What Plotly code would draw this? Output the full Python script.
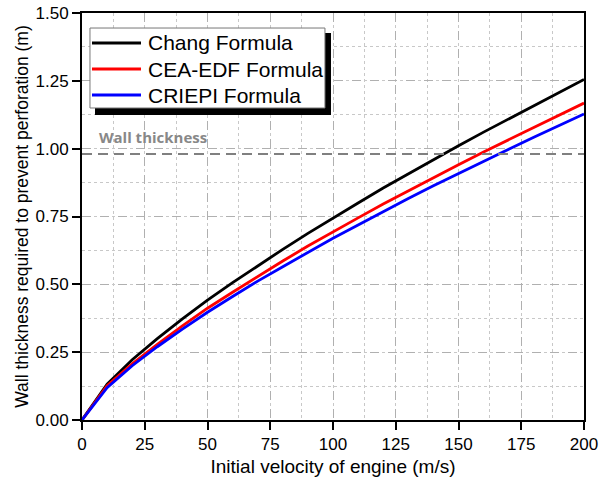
import plotly.graph_objects as go

velocity = [0, 10, 20, 30, 40, 50, 60, 70, 80, 90, 100, 110, 120, 130, 140, 150, 160, 170, 180, 190, 200]
chang = [0.0, 0.132, 0.222, 0.300, 0.373, 0.442, 0.506, 0.569, 0.629, 0.688, 0.745, 0.800, 0.855,
         0.908, 0.960, 1.011, 1.061, 1.110, 1.159, 1.207, 1.255]
cea_edf = [0.0, 0.126, 0.207, 0.279, 0.347, 0.412, 0.471, 0.530, 0.586, 0.641, 0.694, 0.745, 0.796,
           0.845, 0.894, 0.941, 0.988, 1.033, 1.079, 1.124, 1.168]
criepi = [0.0, 0.119, 0.200, 0.270, 0.335, 0.397, 0.455, 0.512, 0.565, 0.618, 0.670, 0.719, 0.769,
          0.816, 0.863, 0.909, 0.954, 0.998, 1.042, 1.085, 1.128]
series_names = ["Chang Formula", "CEA-EDF Formula", "CRIEPI Formula"]
series_colors = ["#000000", "#ff0000", "#0000ff"]
wall_thickness = 0.98
x_ticks = [0, 25, 50, 75, 100, 125, 150, 175, 200]
y_ticks = [0.0, 0.25, 0.5, 0.75, 1.0, 1.25, 1.5]

FONT = "Liberation Sans, Arial, sans-serif"

fig = go.Figure()
for name, color, values in zip(series_names, series_colors, [chang, cea_edf, criepi]):
    fig.add_trace(go.Scatter(x=velocity, y=values, mode="lines", name=name, showlegend=False,
                             line=dict(color=color, width=2.8)))

# wall thickness line
fig.add_trace(go.Scatter(x=[velocity[0], velocity[-1]], y=[wall_thickness, wall_thickness],
                         mode="lines", showlegend=False, name="Wall thickness",
                         line=dict(color="#808080", width=2, dash="10px,6px")))

fig.add_annotation(x=6, y=wall_thickness, xref="x", yref="y", text="<b>Wall thickness</b>",
                   showarrow=False, xanchor="left", yanchor="bottom", yshift=5,
                   font=dict(family="Open Sans, sans-serif", size=15, color="#888888"))

# legend box (with drop shadow), drawn in paper coordinates
fig.add_shape(type="rect", xref="paper", yref="paper",
              x0=0.0259, x1=0.496, y0=0.7494, y1=0.9509,
              fillcolor="black", line=dict(width=0), layer="above")
fig.add_shape(type="rect", xref="paper", yref="paper",
              x0=0.0159, x1=0.484, y0=0.7666, y1=0.9631,
              fillcolor="white", line=dict(color="#777777", width=1), layer="above")
legend_rows = [0.9263, 0.8624, 0.7985]
for name, color, yrow in zip(series_names, series_colors, legend_rows):
    fig.add_shape(type="line", xref="paper", yref="paper",
                  x0=0.0199, x1=0.1175, y0=yrow, y1=yrow,
                  line=dict(color=color, width=3), layer="above")
    fig.add_annotation(x=0.1275, y=yrow, xref="paper", yref="paper", text=name,
                       showarrow=False, xanchor="left", yanchor="middle",
                       font=dict(family=FONT, size=21, color="black"))

axis_common = dict(
    showline=True, linecolor="black", linewidth=2, mirror=True,
    ticks="outside", ticklen=8, tickwidth=1.5, tickcolor="black",
    showgrid=True, gridcolor="#b0b0b0", gridwidth=1, griddash="dash",
    zeroline=False, automargin=False,
    tickfont=dict(family=FONT, size=17, color="black"),
)

fig.update_xaxes(range=[0, 200], tickvals=x_ticks, ticktext=[str(v) for v in x_ticks],
                 minor=dict(dtick=12.5, tick0=0, showgrid=True, gridcolor="#c8c8c8",
                            griddash="dot", gridwidth=1, ticks=""),
                 title=dict(text="Initial velocity of engine (m/s)",
                            font=dict(family=FONT, size=19, color="black"), standoff=6),
                 **axis_common)
fig.update_yaxes(range=[0, 1.5], tickvals=y_ticks, ticktext=[f"{v:.2f}" for v in y_ticks],
                 minor=dict(dtick=0.125, tick0=0, showgrid=True, gridcolor="#c8c8c8",
                            griddash="dot", gridwidth=1, ticks=""),
                 title=dict(text="Wall thickness required to prevent perforation (m)",
                            font=dict(family=FONT, size=17.5, color="black"), standoff=2),
                 **axis_common)

fig.update_layout(
    width=599, height=483,
    margin=dict(l=82, r=15, t=13, b=63),
    paper_bgcolor="white", plot_bgcolor="white",
    showlegend=False,
)

fig.write_html("out.html", config={"displayModeBar": False},
               post_script="document.body.style.margin='0';")
